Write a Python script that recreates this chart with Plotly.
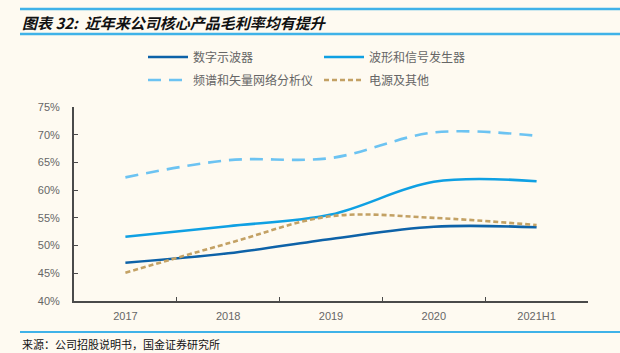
import plotly.graph_objects as go

categories = ["2017", "2018", "2019", "2020", "2021H1"]
osc = [46.9, 48.6, 51.2, 53.4, 53.3]
wave = [51.6, 53.5, 55.6, 61.5, 61.6]
spec = [62.3, 65.4, 65.8, 70.4, 69.8]
power = [45.1, 50.4, 55.3, 55.0, 53.7]
y_ticks = [40, 45, 50, 55, 60, 65, 70, 75]
y_tick_text = ["40%", "45%", "50%", "55%", "60%", "65%", "70%", "75%"]

names = ["数字示波器", "波形和信号发生器", "频谱和矢量网络分析仪", "电源及其他"]
series = [osc, wave, spec, power]
colors = ["#0D62A8", "#0FA0E3", "#6CC3F2", "#C3A164"]
dashes = ["solid", "solid", "13px,8px", "5px,3px"]
legends = ["legend", "legend", "legend2", "legend2"]

BG = "#FEFAF1"
fig = go.Figure()
for n, s, c, d, lg in zip(names, series, colors, dashes, legends):
    fig.add_trace(go.Scatter(
        x=categories, y=s, name=n, mode="lines",
        line=dict(color=c, width=2.6, dash=d, shape="spline", smoothing=1.0),
        legend=lg,
    ))

leg_common = dict(orientation="h", xref="paper", yref="paper", xanchor="left",
                  yanchor="middle", bgcolor="rgba(0,0,0,0)",
                  font=dict(family="Noto Sans CJK SC", size=12, color="#666666"),
                  entrywidth=121, entrywidthmode="pixels", itemwidth=40,
                  tracegroupgap=0)
PW, PH = 514, 194
fig.update_layout(
    width=620, height=353,
    margin=dict(l=74, r=32, t=107, b=52),
    paper_bgcolor=BG, plot_bgcolor=BG,
    showlegend=True,
    legend=dict(x=(151 - 74 - 8) / PW, y=1 + (107 - 57) / PH, **leg_common),
    legend2=dict(x=(151 - 74 - 8) / PW, y=1 + (107 - 80) / PH, **leg_common),
    xaxis=dict(
        type="category", range=[-0.5, 4.5], showgrid=False,
        showline=True, linecolor="#4A4A4A", linewidth=2,
        ticks="inside", ticklen=4, tickcolor="#4A4A4A", tickwidth=1,
        tickson="boundaries",
        tickfont=dict(family="Liberation Sans", size=11, color="#666666"),
        ticklabelstandoff=4,
    ),
    yaxis=dict(
        range=[40, 75], tickvals=y_ticks, ticktext=y_tick_text, showgrid=False,
        zeroline=False, showline=True, linecolor="#4A4A4A", linewidth=2,
        ticks="inside", ticklen=4, tickcolor="#4A4A4A", tickwidth=1,
        tickfont=dict(family="Liberation Sans", size=11, color="#666666"),
        ticklabelstandoff=10,
    ),
    annotations=[
        dict(text="<b><i>图表 32:  近年来公司核心产品毛利率均有提升</i></b>",
             xref="paper", yref="paper", x=-54 / PW, y=1 + (107 - 22) / PH,
             xanchor="left", yanchor="middle", showarrow=False,
             font=dict(family="Noto Sans CJK SC", size=15, color="#111111")),
        dict(text="来源：公司招股说明书，国金证券研究所",
             xref="paper", yref="paper", x=-54 / PW, y=-(344 - 301) / PH,
             xanchor="left", yanchor="middle", showarrow=False,
             font=dict(family="Noto Sans CJK SC", size=11, color="#111111")),
    ],
)
for ly, h in [(9, 2.5), (34, 2.5), (332, 2)]:
    y0 = 1 + (107 - ly - h / 2) / PH
    y1 = 1 + (107 - ly + h / 2) / PH
    fig.add_shape(type="rect", xref="paper", yref="paper", x0=-54 / PW, x1=546 / PW,
                  y0=y0, y1=y1, layer="above", fillcolor="#3FB2E8",
                  line=dict(width=0))
fig.write_html("out.html")
